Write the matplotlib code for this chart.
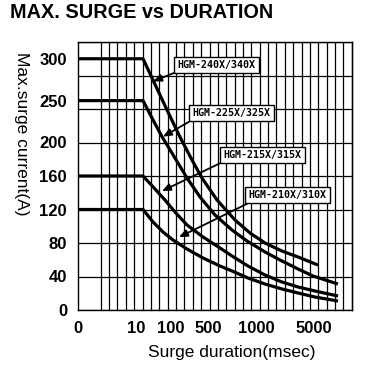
import numpy as np
import matplotlib
matplotlib.use("Agg")
import matplotlib.pyplot as plt

# ---------------- data ----------------
x_ticks = [0, 10, 100, 500, 1000, 5000]
x_tick_labels = ["0", "10", "100", "500", "1000", "5000"]
y_ticks = [0, 40, 80, 120, 160, 200, 250, 300]
y_tick_labels = ["0", "40", "80", "120", "160", "200", "250", "300"]

# non-uniform duration axis of the original chart (msec -> relative position)
scale_msec = [0, 10, 100, 500, 1000, 5000, 10000]
scale_pos = [0, 59, 93.5, 130.5, 178.5, 236.5, 274.5]

dur_240 = [0, 27, 53, 89.6, 197, 327, 435, 594, 781, 938, 1621, 2793, 3897, 5526]
cur_240 = [300, 300, 274.6, 238.8, 206.6, 179.1, 157.6, 131.3, 107.5, 91.9, 80.0, 70.4, 63.3, 53.7]

dur_225 = [0, 27, 53, 76.5, 143, 273, 414, 573, 750, 906, 1621, 2655, 3897, 4931, 8158]
cur_225 = [250, 250, 227, 207, 181.5, 157.6, 134.9, 113.4, 95.5, 82.4, 69.3, 59.7, 49.0, 40.6, 31.0]

dur_215 = [0, 27, 58.3, 84.3, 143, 273, 446, 625, 750, 917, 1621, 2793, 3897, 5132, 8158]
cur_215 = [160, 160, 144.5, 131.3, 117.0, 101.5, 87.2, 74.0, 64.5, 52.5, 41.8, 33.4, 27.5, 22.7, 16.7]

dur_210 = [0, 27, 53, 79.1, 121.6, 273, 446, 625, 750, 917, 1621, 2793, 3897, 5132, 8158]
cur_210 = [120, 120, 105.1, 93.1, 83.6, 72.8, 62.1, 52.5, 46.6, 38.2, 31.0, 25.1, 20.3, 15.5, 10.7]

labels = ["HGM-240X/340X", "HGM-225X/325X", "HGM-215X/315X", "HGM-210X/310X"]
arrow_msec = [53, 79, 76.5, 186]
arrow_amp = [273, 207, 142, 87]

# ---------------- figure ----------------
fig = plt.figure(figsize=(3.72, 3.70), dpi=100)
ax = fig.add_axes([77.5 / 372, 60 / 370, 274.5 / 372, 268 / 370])


def fwd(d):
    return np.interp(d, scale_msec, scale_pos)


def inv(p):
    return np.interp(p, scale_pos, scale_msec)


ax.set_xscale("function", functions=(fwd, inv))
ax.set_xlim(0, 10000)
ax.set_ylim(0, 320)

# grid
for yv in np.arange(0, 321, 40):
    ax.axhline(yv, color="black", lw=0.9, zorder=1)
for k in range(31):
    xf = (100.7 + k * 8.37 - 77.5) / 274.5
    ax.plot([xf, xf], [0, 1], transform=ax.transAxes, color="black", lw=0.9,
            zorder=1, clip_on=False)

for d, c in [(dur_240, cur_240), (dur_225, cur_225), (dur_215, cur_215), (dur_210, cur_210)]:
    ax.plot(d, c, color="black", lw=2.3, solid_joinstyle="round",
            solid_capstyle="butt", zorder=3)

box_pos = [(0.506, 0.914), (0.561, 0.735), (0.674, 0.578), (0.765, 0.429)]
rel = [(0.05, 0.0), (0.04, 0.0), (0.04, 0.0), (0.08, 0.0)]
for lab, xm, ya, bp, rp in zip(labels, arrow_msec, arrow_amp, box_pos, rel):
    ax.annotate(lab, xy=(xm, ya), xycoords="data", xytext=bp,
                textcoords="axes fraction", ha="center", va="center",
                family="DejaVu Sans Mono", fontweight="bold", fontsize=7.2,
                bbox=dict(boxstyle="square,pad=0.32", fc="white", ec="black", lw=1.0),
                arrowprops=dict(arrowstyle="-|>,head_length=0.7,head_width=0.3",
                                color="black", lw=1.3, shrinkA=0, shrinkB=0,
                                relpos=rp),
                zorder=5)

for s in ax.spines.values():
    s.set_linewidth(1.0)
    s.set_color("black")

ax.set_xticks(x_ticks)
ax.set_xticklabels(x_tick_labels)
ax.set_yticks(y_ticks)
ax.set_yticklabels(y_tick_labels)
ax.minorticks_off()
ax.tick_params(length=0)
ax.tick_params(axis="y", pad=7.5)
ax.tick_params(axis="x", pad=8)
for t in ax.get_xticklabels() + ax.get_yticklabels():
    t.set_family("Liberation Sans")
    t.set_fontweight("bold")
    t.set_fontsize(12)

fig.text(10 / 372, 1 - 18.5 / 370, "MAX. SURGE vs DURATION", family="Liberation Sans",
         fontweight="bold", fontsize=14.3, ha="left", va="baseline")
fig.text(21 / 372, 1 - 134 / 370, "Max.surge current(A)", family="Liberation Sans",
         fontsize=12.5, rotation=270, ha="center", va="center")
fig.text(232 / 372, 1 - 353 / 370, "Surge duration(msec)", family="Liberation Sans",
         fontsize=12.5, ha="center", va="center")

fig.savefig("out.png", dpi=100, facecolor="white")
